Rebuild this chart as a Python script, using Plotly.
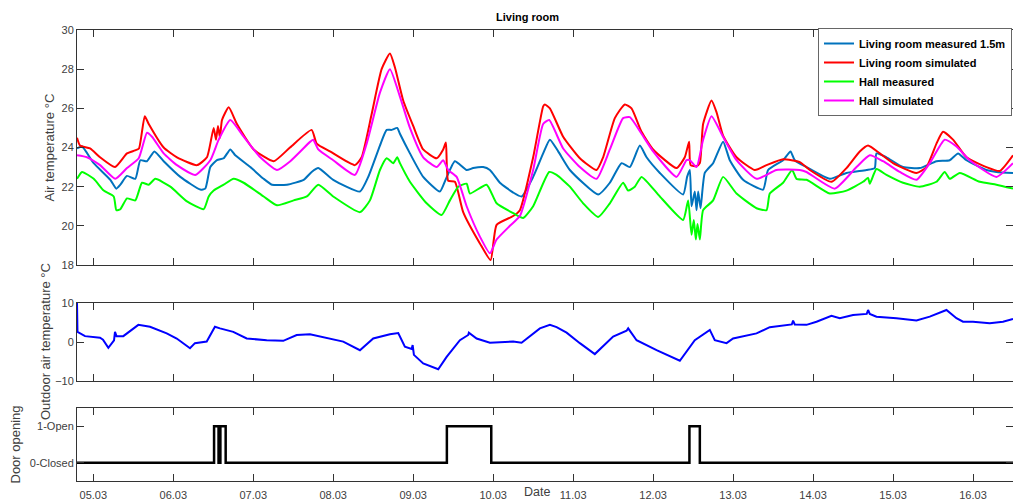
import numpy as np
import pandas as pd
import plotly.graph_objects as go

# time given as decimal day of March (5.0 = 05.03 00:00)
lr_meas_t = [4.796, 4.859, 5.005, 5.213, 5.288, 5.338, 5.421, 5.525, 5.588, 5.671, 5.763, 5.880, 6.088, 6.338, 6.400,
             6.463, 6.546, 6.630, 6.713, 6.775, 6.963, 7.130, 7.234, 7.421, 7.630, 7.730, 7.813, 8.000, 8.334, 8.438,
             8.584, 8.668, 8.730, 8.800, 8.834, 8.959, 9.125, 9.334, 9.405, 9.521, 9.668, 9.750, 9.875, 9.959, 10.084,
             10.250, 10.355, 10.500, 10.625, 10.709, 10.813, 10.959, 11.313, 11.459, 11.605, 11.709, 11.834, 11.918,
             12.084, 12.375, 12.425, 12.459, 12.480, 12.521, 12.543, 12.563, 12.593, 12.646, 12.750, 12.875, 12.959,
             13.125, 13.375, 13.438, 13.625, 13.718, 13.771, 13.918, 14.209, 14.418, 14.668, 14.771, 14.793, 14.918,
             15.125, 15.334, 15.543, 15.709, 15.813, 15.918, 16.168, 16.293, 16.500]
lr_meas_v = [23.95, 24.05, 23.2, 22.35, 21.9, 22.1, 22.55, 22.4, 23.35, 23.3, 23.8, 23.3, 22.5, 21.85, 21.9,
             23.0, 23.35, 23.45, 23.9, 23.6, 23.0, 22.4, 22.1, 22.1, 22.35, 22.75, 22.95, 22.35, 21.75, 22.5,
             24.1, 24.9, 24.9, 25.0, 24.7, 23.7, 22.5, 21.75, 22.35, 23.3, 22.85, 22.95, 23.0, 22.85, 22.2,
             21.7, 21.5, 22.5, 23.7, 24.4, 23.8, 22.85, 21.6, 22.2, 23.2, 23.0, 24.1, 23.5,
             22.7, 21.6, 22.5, 22.85, 21.0, 21.75, 20.8, 21.75, 20.9, 22.7, 23.2, 24.3, 23.35,
             22.35, 21.85, 22.85, 23.35, 23.8, 23.35, 23.0, 22.4, 22.7, 22.85, 22.95, 23.7, 23.5,
             23.0, 22.95, 23.3, 23.35, 23.7, 23.35, 22.85, 22.75, 22.7]

lr_sim_t = [4.796, 4.834, 4.959, 5.084, 5.271, 5.421, 5.521, 5.571, 5.643, 5.693, 5.880, 6.046, 6.296, 6.421, 6.505,
            6.534, 6.559, 6.584, 6.609, 6.693, 6.796, 7.005, 7.255, 7.459, 7.730, 7.793, 7.959, 8.271, 8.355, 8.480,
            8.605, 8.709, 8.771, 8.875, 9.000, 9.125, 9.293, 9.375, 9.409, 9.438, 9.521, 9.625, 9.834, 9.968, 10.043,
            10.250, 10.334, 10.500, 10.625, 10.646, 10.709, 10.875, 11.084, 11.293, 11.375, 11.521, 11.646, 11.730,
            11.855, 12.000, 12.293, 12.396, 12.450, 12.468, 12.543, 12.584, 12.625, 12.730, 12.793, 12.875, 13.043,
            13.271, 13.418, 13.625, 13.834, 13.959, 14.230, 14.418, 14.584, 14.688, 14.834, 15.000, 15.293, 15.418,
            15.543, 15.625, 15.750, 15.918, 16.168, 16.334, 16.500]
lr_sim_v = [24.5, 24.1, 23.95, 23.5, 23.0, 23.7, 23.85, 23.95, 25.6, 25.2, 24.0, 23.5, 23.1, 23.5, 25.0,
            24.4, 25.1, 24.5, 25.4, 26.05, 25.2, 23.9, 23.3, 24.0, 24.9, 24.2, 23.8, 23.1, 23.5, 25.7,
            28.0, 28.8, 28.1, 26.4, 25.1, 23.9, 23.45, 23.9, 24.25, 22.3, 22.25, 20.7, 19.1, 18.25, 20.05,
            20.5, 20.8, 23.5, 26.1, 26.2, 26.0, 24.55, 23.45, 22.85, 23.5, 25.5, 26.2, 26.0,
            24.8, 23.9, 22.95, 23.5, 24.3, 23.1, 23.05, 23.2, 25.2, 26.4, 25.8, 24.6, 23.5,
            22.85, 23.1, 23.4, 23.25, 22.85, 22.25, 22.95, 23.8, 24.1, 23.7, 23.2, 22.7, 23.0,
            24.2, 24.8, 24.4, 23.5, 23.0, 22.8, 23.6]

hall_meas_t = [4.796, 4.859, 5.005, 5.130, 5.255, 5.288, 5.338, 5.421, 5.525, 5.609, 5.693, 5.775, 5.963, 6.171,
               6.380, 6.443, 6.505, 6.630, 6.755, 6.880, 7.130, 7.296, 7.505, 7.671, 7.813, 8.000, 8.334, 8.459,
               8.584, 8.668, 8.750, 8.800, 8.834, 8.959, 9.168, 9.355, 9.459, 9.563, 9.668, 9.709, 9.918, 10.043,
               10.250, 10.375, 10.500, 10.700, 10.793, 10.959, 11.125, 11.313, 11.459, 11.625, 11.688, 11.771,
               11.855, 12.084, 12.375, 12.438, 12.480, 12.509, 12.534, 12.555, 12.584, 12.625, 12.750, 12.875,
               13.043, 13.293, 13.418, 13.459, 13.625, 13.738, 13.793, 13.918, 14.209, 14.418, 14.625, 14.688,
               14.709, 14.793, 14.918, 15.125, 15.334, 15.543, 15.646, 15.709, 15.834, 16.084, 16.293, 16.500]
hall_meas_v = [22.4, 22.75, 22.4, 21.8, 21.5, 20.8, 20.85, 21.4, 21.3, 22.2, 22.1, 22.4, 22.0, 21.25,
               20.85, 21.5, 21.8, 22.1, 22.4, 22.2, 21.5, 21.05, 21.3, 21.5, 22.1, 21.5, 20.7, 21.3,
               22.85, 23.45, 23.2, 23.5, 23.2, 22.25, 21.15, 20.55, 21.3, 22.0, 22.15, 21.65, 22.1, 21.15,
               20.65, 20.4, 21.0, 22.75, 22.6, 22.0, 21.15, 20.45, 21.15, 22.2, 21.8, 22.0,
               22.5, 21.5, 20.3, 21.3, 19.55, 20.3, 19.3, 20.1, 19.3, 20.8, 21.3, 22.5,
               21.65, 20.9, 20.8, 21.65, 22.2, 22.85, 22.4, 22.35, 21.65, 21.8, 22.25, 22.45,
               22.15, 22.9, 22.6, 22.2, 22.0, 22.25, 22.75, 22.4, 22.7, 22.25, 22.1, 21.9]

hall_sim_t = [4.796, 4.921, 5.084, 5.275, 5.421, 5.568, 5.671, 5.734, 5.880, 6.046, 6.275, 6.463, 6.568, 6.713,
              6.880, 7.088, 7.296, 7.463, 7.713, 7.750, 7.813, 8.000, 8.271, 8.418, 8.584, 8.709, 8.834, 8.959,
              9.125, 9.293, 9.375, 9.438, 9.543, 9.668, 9.834, 9.959, 10.043, 10.209, 10.334, 10.500, 10.625,
              10.700, 10.875, 11.084, 11.293, 11.459, 11.625, 11.709, 11.855, 12.000, 12.293, 12.418, 12.459,
              12.543, 12.625, 12.730, 12.875, 13.043, 13.293, 13.543, 13.834, 13.918, 14.271, 14.543, 14.709,
              14.875, 15.084, 15.293, 15.459, 15.646, 15.793, 15.959, 16.293, 16.500]
hall_sim_v = [23.6, 23.5, 23.1, 22.4, 22.95, 23.45, 24.75, 24.55, 23.7, 23.1, 22.6, 23.35, 24.4, 25.4,
              24.55, 23.5, 22.85, 23.3, 24.3, 24.4, 23.9, 23.35, 22.6, 24.2, 26.8, 28.0, 26.6, 25.0,
              23.5, 23.0, 23.35, 22.85, 22.5, 21.0, 19.45, 18.6, 19.3, 20.0, 20.5, 22.85, 25.2,
              25.4, 23.95, 23.0, 22.4, 23.9, 25.5, 25.55, 24.7, 23.8, 22.5, 23.35, 23.35,
              23.0, 24.4, 25.6, 24.55, 23.35, 22.4, 22.85, 22.85, 22.75, 21.9, 23.0, 23.6,
              23.3, 22.75, 22.35, 23.2, 24.4, 24.05, 23.35, 22.5, 23.2]

outdoor_t = [4.796, 4.802, 4.896, 5.084, 5.121, 5.188, 5.259, 5.271, 5.290, 5.375, 5.563, 5.709, 5.918, 6.043,
             6.209, 6.271, 6.418, 6.480, 6.521, 6.584, 6.750, 6.918, 7.168, 7.375, 7.543, 7.709, 7.918, 8.125,
             8.334, 8.500, 8.709, 8.813, 8.896, 8.980, 8.993, 9.009, 9.125, 9.250, 9.313, 9.418, 9.584, 9.688,
             9.696, 9.793, 9.959, 10.250, 10.355, 10.584, 10.709, 10.793, 10.918, 11.084, 11.271, 11.500, 11.668,
             11.688, 11.793, 12.043, 12.334, 12.521, 12.625, 12.709, 12.771, 12.918, 13.000, 13.293, 13.459,
             13.734, 13.750, 13.771, 13.918, 14.043, 14.230, 14.334, 14.500, 14.671, 14.688, 14.709, 14.793,
             15.043, 15.293, 15.459, 15.668, 15.793, 15.875, 16.000, 16.209, 16.375, 16.500]
outdoor_v = [10.0, 2.6, 1.5, 1.1, 0.6, -1.5, 0.4, 2.6, 1.5, 1.5, 4.4, 3.9, 2.2, 0.9,
             -1.6, -0.3, 0.1, 2.2, 3.9, 3.5, 2.6, 0.9, 0.45, 0.3, 1.8, 2.0, 1.1, 0.1,
             -2.1, 0.9, 2.0, 2.3, -1.2, -1.8, -0.8, -3.3, -5.5, -6.5, -7.0, -3.8, 0.45, 1.8,
             2.4, 0.9, -0.2, 0.1, -0.2, 3.5, 4.4, 3.8, 2.4, -0.3, -3.1, 1.4, 2.9,
             3.5, 0.45, -2.1, -4.8, 0.45, 1.8, 3.1, 0.45, -0.3, 0.9, 2.2, 3.8,
             4.5, 5.5, 4.5, 4.4, 5.2, 6.7, 6.1, 6.9, 7.2, 8.2, 7.2, 6.5,
             6.1, 5.5, 6.5, 8.2, 6.1, 5.2, 5.2, 4.8, 5.2, 5.9]

door_t = [4.796, 6.510, 6.566, 6.589, 6.655, 9.421, 9.976, 12.454, 12.584, 16.500]
door_v = [0, 1, 0, 1, 0, 1, 0, 1, 0, 0]

temp_ticks = [18, 20, 22, 24, 26, 28, 30]
outdoor_ticks = [-10, 0, 10]
door_ticks = [0, 1]
door_ticklabels = ["0-Closed", "1-Open"]


def to_dt(days):
    return pd.Timestamp("2016-03-01") + pd.to_timedelta(np.array(days) - 1.0, unit="D")


FONT = "Liberation Sans, Arial, sans-serif"
AX = "#333333"
TXT = "#404040"
SMOOTH = dict(shape="spline", smoothing=0.5)

fig = go.Figure()
fig.add_trace(go.Scatter(x=to_dt(lr_meas_t), y=lr_meas_v, mode="lines", name="Living room measured 1.5m",
                         line=dict(color="#0072BD", width=2, **SMOOTH), xaxis="x", yaxis="y"))
fig.add_trace(go.Scatter(x=to_dt(lr_sim_t), y=lr_sim_v, mode="lines", name="Living room simulated",
                         line=dict(color="#FF0000", width=2, **SMOOTH), xaxis="x", yaxis="y"))
fig.add_trace(go.Scatter(x=to_dt(hall_meas_t), y=hall_meas_v, mode="lines", name="Hall measured",
                         line=dict(color="#00FF00", width=2, **SMOOTH), xaxis="x", yaxis="y"))
fig.add_trace(go.Scatter(x=to_dt(hall_sim_t), y=hall_sim_v, mode="lines", name="Hall simulated",
                         line=dict(color="#FF00FF", width=2, **SMOOTH), xaxis="x", yaxis="y"))
fig.add_trace(go.Scatter(x=to_dt(outdoor_t), y=outdoor_v, mode="lines", showlegend=False,
                         line=dict(color="#0000FF", width=2), xaxis="x2", yaxis="y2"))
fig.add_trace(go.Scatter(x=to_dt(door_t), y=door_v, mode="lines", showlegend=False,
                         line=dict(color="#000000", width=2.5, shape="hv"), xaxis="x3", yaxis="y3"))

xr = [to_dt([4.796])[0], to_dt([16.5])[0]]
xcommon = dict(range=xr, type="date", dtick=86400000, tick0="2016-03-05", tickformat="%d.%m",
               showline=True, linecolor=AX, linewidth=1, mirror="ticks", ticks="inside", ticklen=7,
               tickcolor=AX, showgrid=False, zeroline=False,
               tickfont=dict(family=FONT, size=11, color=TXT))
ycommon = dict(showline=True, linecolor=AX, linewidth=1, mirror="ticks", ticks="inside", ticklen=7,
               tickcolor=AX, showgrid=False, zeroline=False,
               tickfont=dict(family=FONT, size=11, color=TXT))

# plot area: x 77..1013, y 30..481 (px)
H_PLOT = 451.0
def py(p):
    return (481.0 - p) / H_PLOT
def px(p):
    return (p - 77.0) / 936.0

fig.update_layout(
    width=1013, height=500,
    margin=dict(l=77, r=0, t=30, b=19),
    paper_bgcolor="white", plot_bgcolor="white",
    font=dict(family=FONT, size=11, color=TXT),
    xaxis=dict(**xcommon, anchor="y", showticklabels=False),
    xaxis2=dict(**xcommon, anchor="y2", matches="x", showticklabels=False),
    xaxis3=dict(**xcommon, anchor="y3", matches="x", showticklabels=True, ticklabelstandoff=4),
    yaxis=dict(**ycommon, domain=[py(265), 1.0], range=[18, 30], tickvals=temp_ticks, anchor="x"),
    yaxis2=dict(**ycommon, domain=[py(381), py(303)], range=[-10, 10], tickvals=outdoor_ticks, anchor="x2"),
    yaxis3=dict(**ycommon, domain=[0, py(408)], range=[-0.5, 1.5], tickvals=door_ticks,
                ticktext=door_ticklabels, anchor="x3"),
    showlegend=True,
    legend=dict(x=px(818), xanchor="left", y=py(28), yanchor="top", bgcolor="white",
                bordercolor="#666666", borderwidth=1,
                font=dict(family=FONT, size=11, color="#000000", weight="bold"),
                tracegroupgap=0),
)

annots = [
    dict(text="<b>Living room</b>", x=px(527), y=py(17), xref="paper", yref="paper", showarrow=False,
         xanchor="center", yanchor="middle", font=dict(family=FONT, size=11, color="#000000")),
    dict(text="Date", x=px(537), y=py(492), xref="paper", yref="paper", showarrow=False,
         xanchor="center", yanchor="middle", font=dict(family=FONT, size=12.5, color=TXT)),
    dict(text="Air temperature °C", x=px(49), y=py(147.5), xref="paper", yref="paper", showarrow=False,
         textangle=-90, xanchor="center", yanchor="middle", font=dict(family=FONT, size=13, color=TXT)),
    dict(text="Outdoor air temperature °C", x=px(45), y=py(342), xref="paper", yref="paper", showarrow=False,
         textangle=-90, xanchor="center", yanchor="middle", font=dict(family=FONT, size=13, color=TXT)),
    dict(text="Door opening", x=px(15), y=py(444.5), xref="paper", yref="paper", showarrow=False,
         textangle=-90, xanchor="center", yanchor="middle", font=dict(family=FONT, size=13, color=TXT)),
]
fig.update_layout(annotations=annots)

fig.write_html("out.html")
